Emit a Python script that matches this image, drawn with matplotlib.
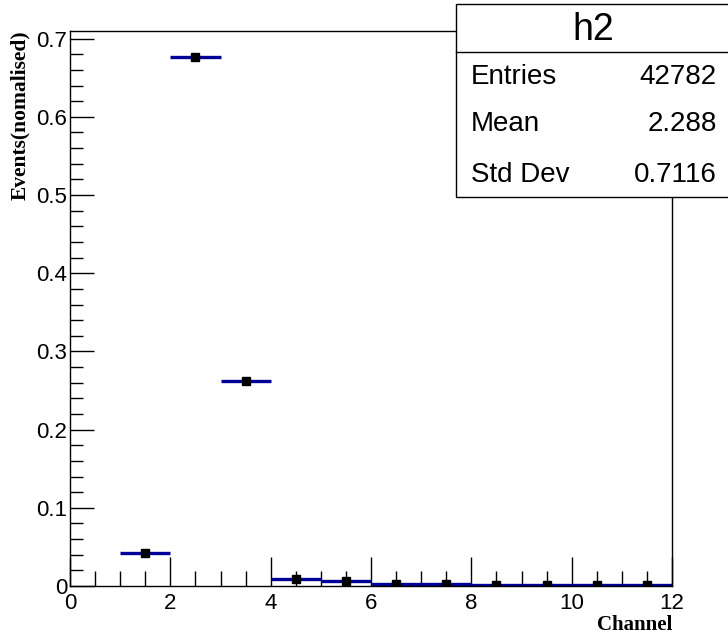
import matplotlib
matplotlib.use("Agg")
import matplotlib.pyplot as plt
from matplotlib.patches import Rectangle
from matplotlib.ticker import MultipleLocator
import numpy as np

# histogram content (normalised)
bin_lo = [1, 2, 3, 4, 5, 6, 7, 8, 9, 10, 11]
bin_hi = [2, 3, 4, 5, 6, 7, 8, 9, 10, 11, 12]
values = [0.042, 0.676, 0.262, 0.009, 0.006, 0.003, 0.003, 0.001, 0.001, 0.001, 0.001]

stats_title = "h2"
stats_names = ["Entries", "Mean", "Std Dev"]
stats_values = ["42782", "2.288", "0.7116"]

sans = "Liberation Sans"
serif = "Liberation Serif"

fig = plt.figure(figsize=(7.28, 6.38), dpi=100)
ax = fig.add_axes([70 / 728, 52 / 638, 602 / 728, 555 / 638])

lo = np.array(bin_lo)
hi = np.array(bin_hi)
centers = (lo + hi) / 2
ax.hlines(values, lo, hi, color="#000099", lw=2.4, zorder=2)
ax.plot(centers, values, "s", color="black", ms=5.5, zorder=3)

ax.set_xlim(0, 12)
ax.set_ylim(0, 1.05 * max(values))

ax.xaxis.set_major_locator(MultipleLocator(2))
ax.xaxis.set_minor_locator(MultipleLocator(0.5))
ax.yaxis.set_major_locator(MultipleLocator(0.1))
ax.yaxis.set_minor_locator(MultipleLocator(0.02))
ax.tick_params(axis="x", which="both", direction="in", top=False, pad=5)
ax.tick_params(axis="y", which="both", direction="in", right=False, pad=2)
ax.tick_params(axis="x", which="major", length=21, width=1)
ax.tick_params(axis="x", which="minor", length=11, width=1)
ax.tick_params(axis="y", which="major", length=17, width=1)
ax.tick_params(axis="y", which="minor", length=9, width=1)
ax.set_yticks(np.arange(0, 0.71, 0.1))
ax.set_yticklabels(["0", "0.1", "0.2", "0.3", "0.4", "0.5", "0.6", "0.7"])
for lab in ax.get_xticklabels() + ax.get_yticklabels():
    lab.set_fontfamily(sans)
    lab.set_fontsize(16)
for s in ax.spines.values():
    s.set_linewidth(1)

fig.text(672 / 728, 1 - 625 / 638, "Channel", family=serif, weight="bold",
         fontsize=15, ha="right", va="center")
fig.text(20 / 728, 1 - 30 / 638, "Events(nomalised)", family=serif, weight="bold",
         fontsize=15.5, rotation=90, ha="center", va="top")

# stats box
box = Rectangle((456 / 728, 1 - 197 / 638), 0.5, 193 / 638, transform=fig.transFigure,
                facecolor="white", edgecolor="black", lw=1, zorder=5)
fig.patches.append(box)
fig.add_artist(plt.Line2D([456 / 728, 1], [1 - 52 / 638, 1 - 52 / 638],
                          transform=fig.transFigure, color="black", lw=1, zorder=6))
fig.text(593 / 728, 1 - 30 / 638, stats_title, family=sans, fontsize=27,
         ha="center", va="center", zorder=7)
rows_y = [77, 124, 175]
for name, val, yy in zip(stats_names, stats_values, rows_y):
    fig.text(471 / 728, 1 - yy / 638, name, family=sans, fontsize=20,
             ha="left", va="center", zorder=7)
    fig.text(717 / 728, 1 - yy / 638, val, family=sans, fontsize=20,
             ha="right", va="center", zorder=7)

fig.savefig("out.png", dpi=100)
